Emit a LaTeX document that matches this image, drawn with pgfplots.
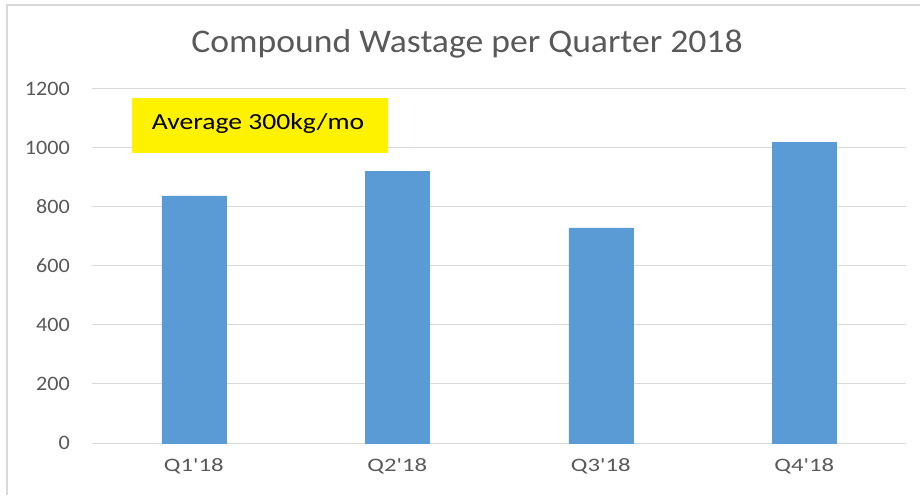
\documentclass[border=0pt]{standalone}
\usepackage{fontspec}
\setmainfont{Carlito}
\usepackage{pgfplots}
\pgfplotsset{compat=1.18}
\definecolor{barblue}{HTML}{5B9BD5}
\definecolor{gridgray}{HTML}{D9D9D9}
\definecolor{txtgray}{HTML}{595959}
\begin{document}
\begin{tikzpicture}[x=1pt,y=1pt]
\useasboundingbox (0,0) rectangle (920,495);
\fill[white] (0,0) rectangle (920,495);
\draw[gridgray, line width=1.2pt] (7,0) -- (7,490) -- (920,490);
\node[txtgray, anchor=base, xscale=1.08, font=\fontsize{33}{38}\selectfont] at (467,442) {Compound Wastage per Quarter 2018};
\begin{axis}[
  at={(92pt,52pt)}, anchor=south west,
  scale only axis, width=814pt, height=354pt,
  xmin=-0.5, xmax=3.5, ymin=0, ymax=1200,
  ytick={0,200,400,600,800,1000,1200},
  xtick={0,1,2,3},
  xticklabels={Q1\textquotesingle18,Q2\textquotesingle18,Q3\textquotesingle18,Q4\textquotesingle18},
  ymajorgrids, grid style={gridgray, line width=1pt},
  axis line style={draw=none},
  major tick length=0pt,
  /pgf/number format/assume math mode=true,
  /pgf/number format/1000 sep={},
  tick label style={txtgray},
  yticklabel style={font=\fontsize{20.5}{24}\selectfont, xscale=1.08, xshift=-17pt},
  xticklabel style={font=\fontsize{19}{22}\selectfont, xscale=1.3, yshift=-12pt},
  ybar, bar width=64pt,
]
\addplot[fill=barblue, draw=barblue] coordinates {(0,838) (1,922) (2,729) (3,1020)};
\end{axis}
\fill[yellow] (132,342) rectangle (388,397);
\node[black, anchor=base, xscale=1.2, font=\fontsize{23}{27}\selectfont] at (258,365) {Average 300kg/mo};
\end{tikzpicture}
\end{document}
